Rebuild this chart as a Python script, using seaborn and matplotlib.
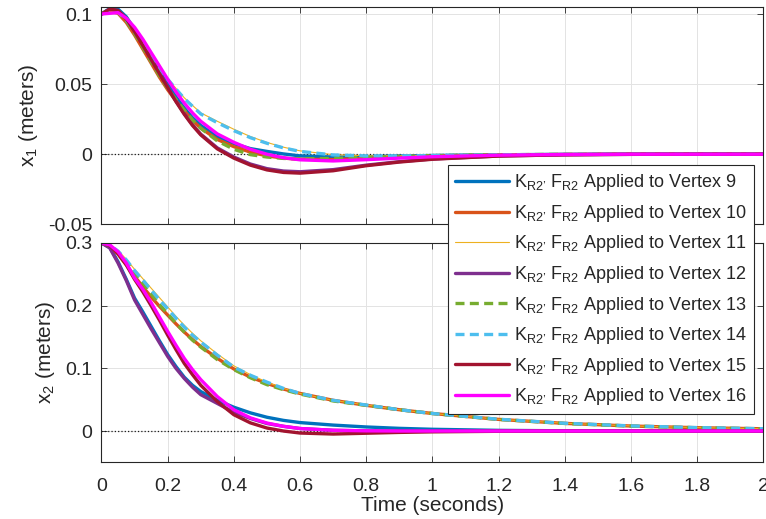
import seaborn as sns
import matplotlib.pyplot as plt
from matplotlib.lines import Line2D

# sample times (seconds)
t_s = [0, 0.025, 0.05, 0.075, 0.1, 0.125, 0.15, 0.175, 0.2, 0.225, 0.25, 0.275, 0.3,
       0.35, 0.4, 0.45, 0.5, 0.55, 0.6, 0.7, 0.8, 0.9, 1.0, 1.2, 1.4, 1.6, 1.8, 2.0]

# x1 (meters), one list per vertex
x1_v9 = [0.1, 0.104, 0.1035, 0.098, 0.089, 0.079, 0.069, 0.059, 0.05, 0.041, 0.033, 0.026, 0.0205,
         0.0125, 0.0075, 0.004, 0.002, 0.0002, -0.0012, -0.002, -0.0018, -0.0013, -0.0009, -0.0004, -0.0001, 0, 0, 0]
x1_v10 = [0.1, 0.102, 0.1005, 0.094, 0.085, 0.075, 0.065, 0.055, 0.046, 0.038, 0.031, 0.024, 0.0186,
          0.0105, 0.0054, 0.0015, -0.0012, -0.0028, -0.0036, -0.0038, -0.003, -0.002, -0.0013, -0.0005, -0.0002, 0, 0, 0]
x1_v11 = [0.1, 0.1025, 0.1015, 0.0965, 0.0885, 0.0795, 0.0705, 0.0618, 0.0538, 0.047, 0.0403, 0.0348, 0.0295,
          0.0235, 0.0178, 0.0126, 0.0084, 0.005, 0.0024, -0.0003, -0.0011, -0.0011, -0.0009, -0.0004, -0.0001, 0, 0, 0]
x1_v12 = [0.1, 0.1035, 0.1025, 0.097, 0.088, 0.078, 0.068, 0.058, 0.048, 0.038, 0.029, 0.021, 0.0143,
          0.0045, -0.002, -0.007, -0.0103, -0.012, -0.0125, -0.011, -0.0078, -0.0053, -0.0034, -0.0013, -0.0004, -0.0001, 0, 0]
x1_v13 = [0.1, 0.1025, 0.101, 0.095, 0.086, 0.076, 0.066, 0.056, 0.047, 0.039, 0.0315, 0.0245, 0.0185,
          0.0095, 0.0035, -0.0003, -0.002, -0.003, -0.0033, -0.003, -0.0022, -0.0015, -0.001, -0.0004, -0.0001, 0, 0, 0]
x1_v14 = [0.1, 0.1025, 0.1015, 0.096, 0.088, 0.079, 0.07, 0.0615, 0.0535, 0.0465, 0.0398, 0.0342, 0.0287,
          0.0225, 0.0168, 0.0118, 0.0078, 0.0045, 0.002, -0.0005, -0.0012, -0.0012, -0.001, -0.0005, -0.0002, 0, 0, 0]
x1_v15 = [0.1, 0.1035, 0.1025, 0.0965, 0.0875, 0.0775, 0.0675, 0.0575, 0.0475, 0.0375, 0.0285, 0.0205, 0.0138,
          0.0038, -0.0028, -0.0078, -0.0112, -0.013, -0.0135, -0.0118, -0.0082, -0.0056, -0.0036, -0.0013, -0.0004, -0.0001, 0, 0]
x1_v16 = [0.1, 0.1005, 0.101, 0.097, 0.0905, 0.082, 0.0725, 0.063, 0.0535, 0.0445, 0.0365, 0.0295, 0.0235,
          0.0145, 0.0085, 0.0035, 0.0, -0.0025, -0.004, -0.0048, -0.0039, -0.0028, -0.0018, -0.0007, -0.0002, 0, 0, 0]

# x2 (meters), one list per vertex
x2_v9 = [0.3, 0.293, 0.27, 0.242, 0.212, 0.19, 0.167, 0.144, 0.122, 0.103, 0.086, 0.073, 0.063,
         0.049, 0.038, 0.029, 0.022, 0.017, 0.0135, 0.0095, 0.0065, 0.0043, 0.0028, 0.0011, 0.0004, 0.0001, 0, 0]
x2_v10 = [0.3, 0.295, 0.282, 0.265, 0.247, 0.23, 0.214, 0.199, 0.185, 0.171, 0.158, 0.146, 0.135,
          0.116, 0.099, 0.086, 0.076, 0.067, 0.06, 0.049, 0.041, 0.034, 0.028, 0.0186, 0.0122, 0.008, 0.0053, 0.0036]
x2_v11 = [0.3, 0.297, 0.288, 0.274, 0.258, 0.243, 0.228, 0.213, 0.198, 0.183, 0.169, 0.156, 0.144,
          0.123, 0.104, 0.09, 0.078, 0.068, 0.06, 0.049, 0.0415, 0.034, 0.028, 0.0188, 0.0124, 0.0082, 0.0055, 0.0037]
x2_v12 = [0.3, 0.292, 0.268, 0.24, 0.209, 0.186, 0.163, 0.141, 0.119, 0.1, 0.084, 0.07, 0.058,
          0.044, 0.03, 0.02, 0.012, 0.0075, 0.004, 0.0012, 0.0003, 0, 0, 0, 0, 0, 0, 0]
x2_v13 = [0.3, 0.296, 0.285, 0.27, 0.252, 0.236, 0.219, 0.202, 0.187, 0.172, 0.158, 0.145, 0.134,
          0.114, 0.098, 0.085, 0.074, 0.066, 0.059, 0.048, 0.041, 0.034, 0.028, 0.0185, 0.0121, 0.0079, 0.0052, 0.0035]
x2_v14 = [0.3, 0.297, 0.287, 0.273, 0.256, 0.241, 0.225, 0.2094, 0.195, 0.18, 0.166, 0.153, 0.142,
          0.121, 0.102, 0.089, 0.078, 0.068, 0.06, 0.049, 0.0415, 0.034, 0.028, 0.0188, 0.0124, 0.0082, 0.0055, 0.0037]
x2_v15 = [0.3, 0.296, 0.283, 0.265, 0.242, 0.222, 0.2, 0.177, 0.153, 0.13, 0.108, 0.09, 0.073,
          0.047, 0.026, 0.013, 0.0048, 0.0, -0.0032, -0.0048, -0.0035, -0.0022, -0.0013, -0.0004, -0.0001, 0, 0, 0]
x2_v16 = [0.3, 0.297, 0.286, 0.268, 0.244, 0.226, 0.205, 0.182, 0.159, 0.137, 0.116, 0.098, 0.082,
          0.055, 0.034, 0.021, 0.0128, 0.0075, 0.004, 0.0012, 0.0003, 0, 0, 0, 0, 0, 0, 0]

vertices = [9, 10, 11, 12, 13, 14, 15, 16]
x1_all = [x1_v9, x1_v10, x1_v11, x1_v12, x1_v13, x1_v14, x1_v15, x1_v16]
x2_all = [x2_v9, x2_v10, x2_v11, x2_v12, x2_v13, x2_v14, x2_v15, x2_v16]

# matlab default order, plus magenta
colors = ['#0072BD', '#D95319', '#EDB120', '#7E2F8E', '#77AC30', '#4DBEEE', '#A2142F', '#FF00FF']
widths = [2.4, 2.4, 0.8, 2.4, 2.4, 2.4, 2.4, 2.4]
dashed = [False, False, False, False, True, True, False, False]

sns.set_theme(style="whitegrid")
plt.rcParams['font.family'] = ['Liberation Sans', 'DejaVu Sans']
plt.rcParams['mathtext.fontset'] = 'custom'
plt.rcParams['mathtext.rm'] = 'Liberation Sans'
plt.rcParams['mathtext.it'] = 'Liberation Sans'

dark = '#262626'
fig = plt.figure(figsize=(7.66, 5.19), dpi=100)
ax1 = fig.add_axes([0.1325, 0.5678, 0.864, 0.4187])
ax2 = fig.add_axes([0.1325, 0.1091, 0.864, 0.4227])

def draw(ax, series):
  for vals, c, w, d in zip(series, colors, widths, dashed):
    sns.lineplot(x=t_s, y=vals, ax=ax, color=c, linewidth=w, estimator=None, sort=False, legend=False)
    if d:
      ax.lines[-1].set_dashes((2.7, 1.6))
  ax.axhline(0, color='k', ls=':', lw=0.9, zorder=1.5)
  ax.set_xlim(0, 2)
  ax.set_xticks([0, 0.2, 0.4, 0.6, 0.8, 1, 1.2, 1.4, 1.6, 1.8, 2])
  ax.grid(True, color='#e3e3e3', lw=0.7)
  for s in ax.spines.values():
    s.set_color(dark)
    s.set_linewidth(0.8)
  ax.tick_params(direction='in', length=4, width=0.6, color=dark, labelcolor=dark,
                 top=True, right=True, bottom=True, left=True, labelsize=14)
  ax.tick_params(axis='y', pad=6.5)
  ax.tick_params(axis='x', pad=11)

draw(ax1, x1_all)
ax1.set_ylim(-0.05, 0.105)
ax1.set_yticks([-0.05, 0, 0.05, 0.1], ['-0.05', '0', '0.05', '0.1'])
ax1.set_xticklabels([])
ax1.set_ylabel('x$_1$ (meters)', fontsize=15, color=dark, labelpad=6)

draw(ax2, x2_all)
ax2.set_ylim(-0.05, 0.3)
ax2.set_yticks([0, 0.1, 0.2, 0.3], ['0', '0.1', '0.2', '0.3'])
ax2.set_xticklabels(['0', '0.2', '0.4', '0.6', '0.8', '1', '1.2', '1.4', '1.6', '1.8', '2'])
ax2.set_ylabel('x$_2$ (meters)', fontsize=15, color=dark, labelpad=6)
ax2.set_xlabel('Time (seconds)', fontsize=15, color=dark, labelpad=1)

handles = []
for c, w, d in zip(colors, widths, dashed):
  h = Line2D([], [], color=c, lw=w)
  if d:
    h.set_dashes((2.7, 1.6))
  handles.append(h)
labels = [f"K$_{{\\mathregular{{R2’}}}}$ F$_{{\\mathregular{{R2}}}}$ Applied to Vertex {v}" for v in vertices]

leg = fig.legend(handles, labels, loc='upper left', bbox_to_anchor=(0.585, 0.682),
                 fontsize=13, frameon=True, fancybox=False, framealpha=1, borderpad=0.4,
                 labelspacing=0.53, handlelength=2.95, handletextpad=0.3, borderaxespad=0)
leg.get_frame().set_edgecolor(dark)
leg.get_frame().set_linewidth(0.8)
for txt in leg.get_texts():
  txt.set_color(dark)

plt.savefig('out.png', dpi=100)
